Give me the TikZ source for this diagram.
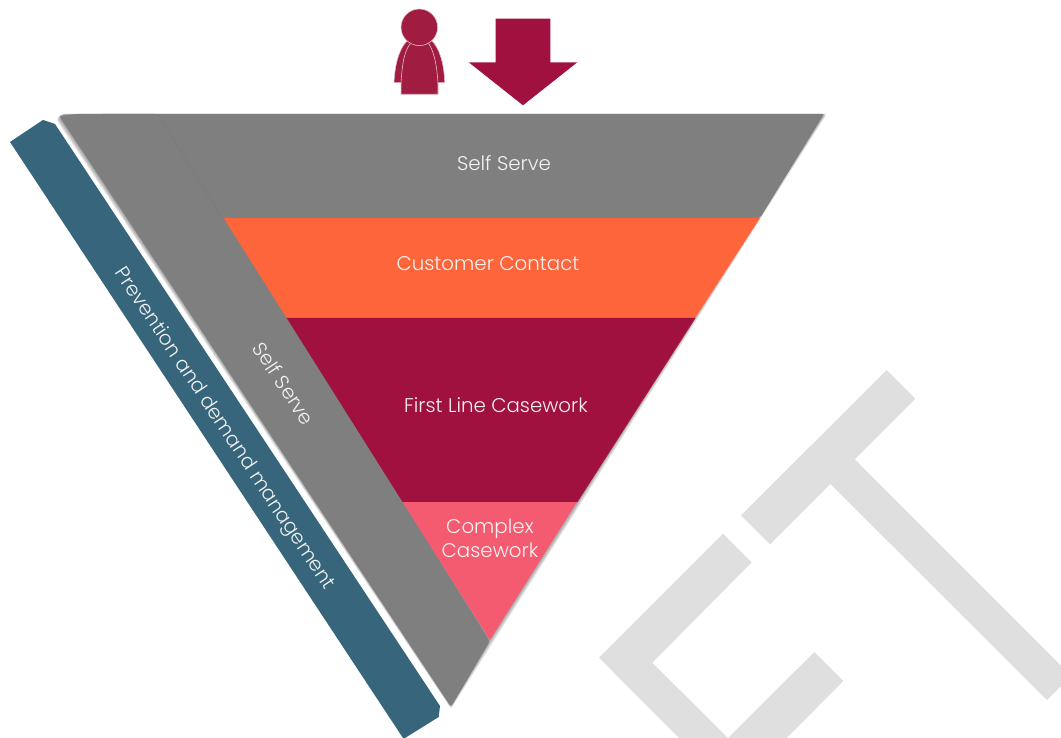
\documentclass[tikz,border=0pt]{standalone}
\usepackage{fontspec}
\usetikzlibrary{calc}
\setmainfont{Poppins}[UprightFont=* Light]
\definecolor{crim}{HTML}{A01140}
\definecolor{personc}{HTML}{A01C40}
\definecolor{bandgrey}{HTML}{7F7F7F}
\definecolor{orangec}{HTML}{FF653B}
\definecolor{pinkc}{HTML}{F55B70}
\definecolor{bluec}{HTML}{37667C}
\definecolor{markc}{HTML}{DFDFDF}
\definecolor{labelc}{HTML}{F2F2F2}
\tikzset{
  lab/.style={text=labelc,font=\fontsize{19.8}{24.5}\selectfont,align=center,inner sep=0pt},
  soft/.style={fill=black,draw=none,fill opacity=.09,rounded corners=2pt},
  personpart/.style={fill=personc,draw=personc!30!white,line width=.6pt,line join=round}
}
\begin{document}
\begin{tikzpicture}[x=1pt,y=-1pt]
\useasboundingbox (0,0) rectangle (1061,738);
\begin{scope}
\clip (0,0) rectangle (1061,738);
% watermark
\fill[markc] (886.7,370) -- (915.3,398.7) -- (854.7,459.3) -- (1100,704.6) -- (1100,647) -- (1075,672) -- (1047,700) -- (830.3,484) -- (770,544.3) -- (741,515.3) -- cycle;
\fill[markc] (723,533.7) -- (751.7,562.3) -- (652.3,662.7) -- (728,738) -- (814.3,652) -- (843.3,681) -- (786.7,738) -- (679,738) -- (599,657.7) -- cycle;
% blue bar
\fill[bluec] (10,142) -- (43,120) -- (55,124) -- (440,706) -- (438.7,717) -- (405,738) -- (403,738) -- cycle;
% soft shadows
\foreach \d in {0.7,1.4,2.1,2.8}{
  \fill[soft] ($(824,114)+(\d,0)$) -- ($(490,640)+(\d,\d)$) -- ($(451,706)+(0,\d)$) -- ($(59,117)+(-\d,\d)$) -- (62,114) -- cycle;
}
% top band
\fill[bandgrey,rounded corners=2pt] (100,114) -- (824,114) -- (760,218) -- (222,218) -- cycle;
\fill[orangec] (222,218) -- (760,218) -- (695,318) -- (284,318) -- cycle;
\fill[crim] (284,318) -- (695,318) -- (577,502) -- (402,502) -- cycle;
\draw[personc,line width=1pt] (695,318) -- (577,502);
\fill[pinkc] (402,502) -- (577,502) -- (490,640) -- cycle;
% left band
\fill[bandgrey,rounded corners=3pt] (59,116) -- (76,114) -- (158,114) -- (490,641) -- (451,707) -- cycle;
\draw[black!55,opacity=.35,line width=.6pt] (158,114) -- (222,218);
% person
\draw[personpart] (394,82.7) .. controls (395,62) and (400,48) .. (407,41) -- (432,41) .. controls (439,48) and (444,62) .. (444.7,82.7) -- (438,82.7) -- (438,94.3) -- (401,94.3) -- (401,82.7) -- cycle;
\draw[personc!30!white,line width=.6pt] (401,84) .. controls (402,65) and (404,52) .. (410,44) .. controls (415,42) and (424,42) .. (429,44) .. controls (434,52) and (437,65) .. (438,84);
\draw[personpart] (419.3,27.3) circle (18.3);
% arrow
\fill[crim] (495.7,18.7) -- (550.3,18.7) -- (550.3,62.3) -- (577.3,62.3) -- (523,105.3) -- (468.7,62.3) -- (495.7,62.3) -- cycle;
\end{scope}
% labels
\node[lab] (top) at (504,163) {Self Serve};
\node[lab] (contact) at (488,264) {Customer Contact};
\node[lab] (first) at (496,405.5) {First Line Casework};
\node[lab] (complex) at (490,538.5) {Complex\\Casework};
\node[lab,rotate=-56.5] (side) at (284,383.5) {Self Serve};
\node[lab,rotate=-56.5] (prev) at (224,429) {Prevention and demand management};
\end{tikzpicture}
\end{document}
